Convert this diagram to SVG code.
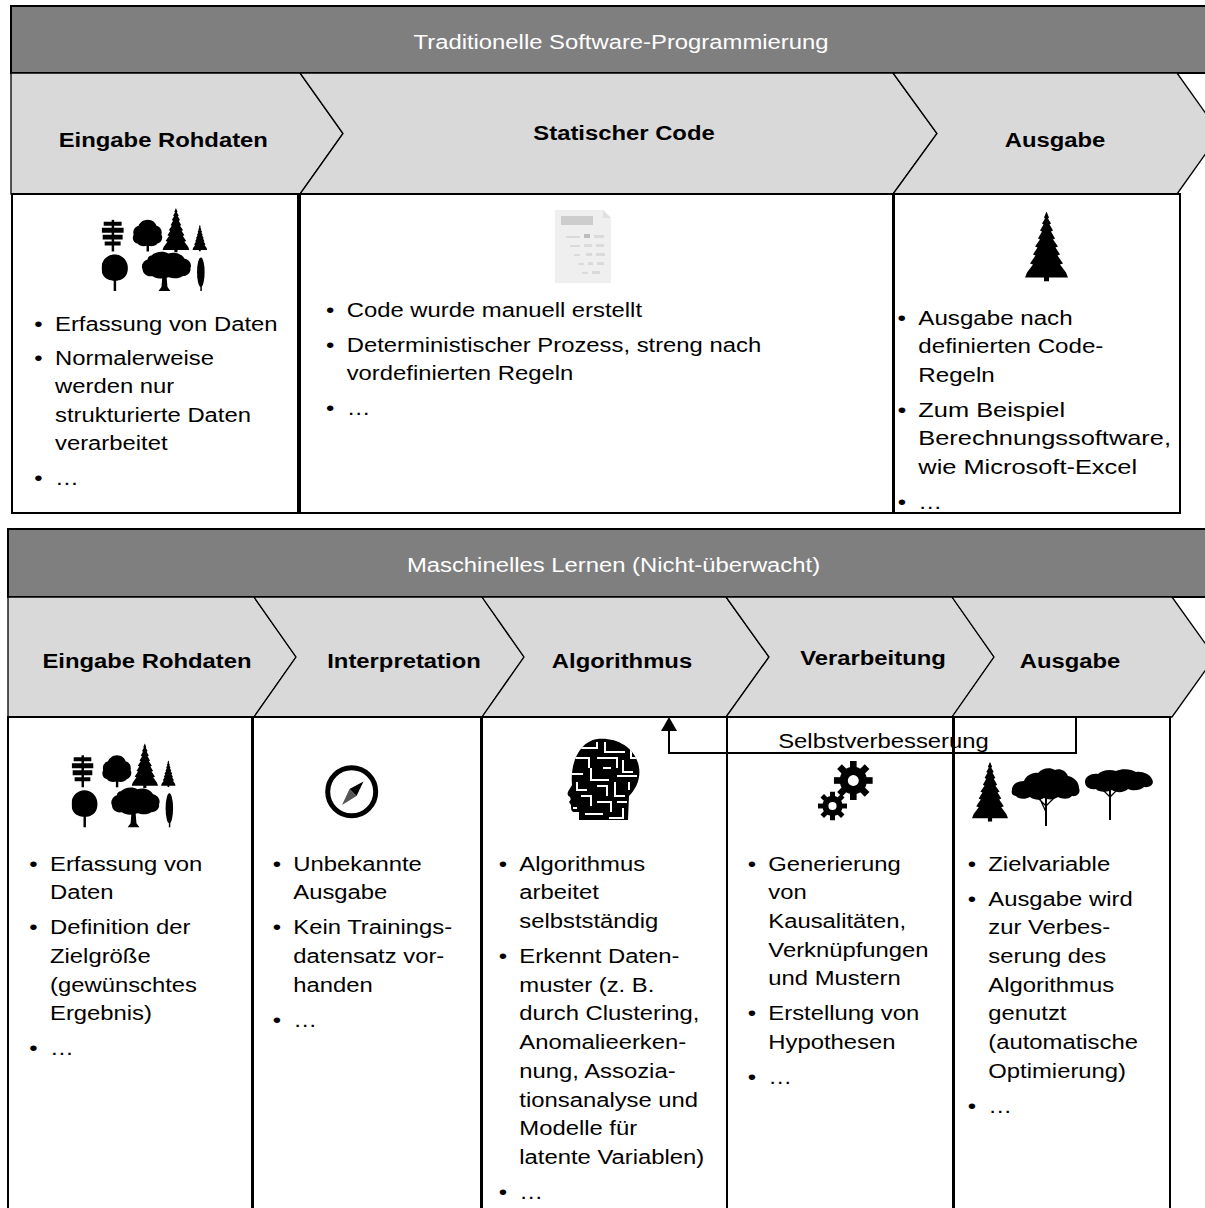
<svg xmlns="http://www.w3.org/2000/svg" xmlns:xlink="http://www.w3.org/1999/xlink" width="1205" height="1208" viewBox="0 0 1205 1208">
  <style>
    .t { font-family: "Liberation Sans", Arial, Helvetica, sans-serif; font-size: 21px; fill: #000; }
    .b { font-weight: bold; }
    .w { fill: #fff; }
    .mid { text-anchor: middle; }
    .hdr { fill: #7f7f7f; stroke: #000; stroke-width: 2; }
    .chev { fill: #d9d9d9; stroke: #000; stroke-width: 1.3; stroke-linejoin: miter; }
    .box { fill: #fff; stroke: #000; stroke-width: 2; }
    .conn { fill: none; stroke: #000; stroke-width: 2; }
    .trunk { fill: none; stroke: #000; stroke-width: 2; }
    .twig { fill: none; stroke: #000; stroke-width: 1.3; }
  </style>
  <defs>
    <marker id="arrow" markerUnits="userSpaceOnUse" markerWidth="14" markerHeight="16" viewBox="0 0 14 16" refX="0" refY="8" orient="auto">
      <path d="M0 0 L14 8 L0 16 Z" fill="#000"/>
    </marker>
    <!-- conifer silhouette -->
    <symbol id="pine" viewBox="0 0 43 70" preserveAspectRatio="none">
      <path fill="#000" d="M21.5 0 L24 6 L23 7 L26 12 L24.5 13 L28 19 L26 20 L30 27 L28 28 L33 35 L30.5 36 L35 43 L32.5 44 L38 52 L35 53 L41 61 L43 66 L24 66 L24 70 L19 70 L19 66 L0 66 L2 61 L8 53 L5 52 L10.5 44 L8 43 L12.5 36 L10 35 L15 28 L13 27 L17 20 L15 19 L18.5 13 L17 12 L20 7 L19 6 Z"/>
    </symbol>
    <!-- group of seven trees -->
    <symbol id="trees" viewBox="0 0 107 85" preserveAspectRatio="none">
      <g fill="#000">
        <path d="M2 14h18v4H2zM0 20h22v5H0zM1 27h20v5H1zM3 34h16v4H3z"/>
        <rect x="10" y="12" width="2.5" height="32"/>
        <path d="M46 12c5 0 8 3 9 6c4 1 6 5 5 9c2 3 0 8-4 9c-2 3-7 3-10 2c-3 1-8 1-10-2c-4-1-6-5-4-9c-1-4 1-8 5-9c1-3 5-6 9-6z"/>
        <rect x="45" y="34" width="2.5" height="10"/>
        <use xlink:href="#pine" href="#pine" x="61" y="0" width="27" height="45"/>
        <use xlink:href="#pine" href="#pine" x="91" y="17" width="15" height="27"/>
        <path d="M13 47c7 0 12 5 13 11c1 6-1 12-6 14c-3 2-10 2-14 0c-5-2-7-8-6-14c1-6 6-11 13-11z"/>
        <rect x="12" y="70" width="2.5" height="14"/>
        <path d="M50 48c4-4 12-5 17-2c6-2 13 0 16 5c5 1 8 6 6 10c1 4-3 8-8 8c-4 3-10 2-14 1c-5 2-12 2-16-1c-6 1-10-3-10-7c-2-4 1-9 5-10c0-2 2-4 4-4z"/>
        <path d="M61 68h4l1 12 3 4h-12l3-4z"/>
        <ellipse cx="99.5" cy="65" rx="3.8" ry="15"/>
        <rect x="99" y="78" width="1.5" height="6"/>
      </g>
    </symbol>
    <!-- cog wheel -->
    <symbol id="gear" viewBox="-10 -10 20 20">
      <g fill="#000">
        <circle r="7"/>
        <rect x="-1.7" y="-10" width="3.4" height="20"/>
        <rect x="-1.7" y="-10" width="3.4" height="20" transform="rotate(45)"/>
        <rect x="-1.7" y="-10" width="3.4" height="20" transform="rotate(90)"/>
        <rect x="-1.7" y="-10" width="3.4" height="20" transform="rotate(135)"/>
      </g>
      <circle r="2.8" fill="#fff"/>
    </symbol>
    <clipPath id="headClip">
      <path d="M30 1 C48 -1 66 8 71 25 C75 38 70 50 62 58 L61 82 L12 82 L12 74 L7 74 C4 74 4 70 4 67 L2 64 C4 62 4 61 3 59 C0 58 0 55 2 52 L5 47 C3 25 12 4 30 1 Z"/>
    </clipPath>
  </defs>

  <!-- ===== Traditional programming ===== -->
  <g id="trad-header">
    <rect class="hdr" x="11" y="6" width="1210" height="67"/>
    <text class="t w mid" transform="translate(621 48.5) scale(1.135 1)">Traditionelle Software-Programmierung</text>
  </g>

  <g id="trad-input">
    <polygon class="chev" points="11,73 300,73 343,133.5 300,194 11,194"/>
    <text class="t b mid" transform="translate(163.3 146.7) scale(1.135 1)">Eingabe Rohdaten</text>
    <rect class="box" x="12" y="194" width="286" height="319"/>
    <use xlink:href="#trees" href="#trees" x="101.7" y="208" width="106.6" height="84"/>
    <text class="t" transform="translate(55 331) scale(1.135 1)">
      <tspan x="-18.2" y="0">•</tspan><tspan x="0" y="0">Erfassung von Daten</tspan>
      <tspan x="-18.2" y="34">•</tspan><tspan x="0" y="34">Normalerweise</tspan>
      <tspan x="0" y="62.5">werden nur</tspan>
      <tspan x="0" y="91">strukturierte Daten</tspan>
      <tspan x="0" y="119.5">verarbeitet</tspan>
      <tspan x="-18.2" y="154.5">•</tspan><tspan x="0" y="154.5">…</tspan>
    </text>
  </g>

  <g id="trad-code">
    <polygon class="chev" points="300,73 893,73 937,133.5 893,194 300,194 343,133.5"/>
    <text class="t b mid" transform="translate(624 139.5) scale(1.135 1)">Statischer Code</text>
    <rect class="box" x="300" y="194" width="593" height="319"/>
    <g id="calc-doc">
      <path d="M555 210 H603 L611 218 V283 H555 Z" fill="#efefef"/>
      <path d="M603 210 V218 H611" fill="#e0e0e0"/>
      <rect x="561" y="216" width="32" height="9" fill="#cdcdcd"/>
      <g fill="#dadada">
        <rect x="566" y="236" width="14" height="2"/><rect x="584" y="234" width="6" height="4" fill="#bdbdbd"/><rect x="594" y="235" width="10" height="3"/>
        <rect x="570" y="245" width="10" height="2"/><rect x="584" y="244" width="8" height="3"/><rect x="596" y="244" width="8" height="3"/>
        <rect x="574" y="254" width="6" height="2"/><rect x="586" y="253" width="6" height="3"/><rect x="596" y="253" width="9" height="3"/>
        <rect x="578" y="263" width="6" height="2"/><rect x="588" y="262" width="5" height="3"/><rect x="597" y="262" width="7" height="3"/>
        <rect x="582" y="272" width="6" height="2"/><rect x="592" y="271" width="8" height="3"/>
      </g>
    </g>
    <text class="t" transform="translate(346.7 317) scale(1.135 1)">
      <tspan x="-18.2" y="0">•</tspan><tspan x="0" y="0">Code wurde manuell erstellt</tspan>
      <tspan x="-18.2" y="35">•</tspan><tspan x="0" y="35">Deterministischer Prozess, streng nach</tspan>
      <tspan x="0" y="63.5">vordefinierten Regeln</tspan>
      <tspan x="-18.2" y="98">•</tspan><tspan x="0" y="98">…</tspan>
    </text>
  </g>

  <g id="trad-output">
    <polygon class="chev" points="893,73 1177,73 1220,133.5 1177,194 893,194 937,133.5"/>
    <text class="t b mid" transform="translate(1055 146.7) scale(1.135 1)">Ausgabe</text>
    <rect class="box" x="894" y="194" width="286" height="319"/>
    <use xlink:href="#pine" href="#pine" x="1025" y="211.5" width="43" height="70"/>
    <text class="t" transform="translate(918.3 325) scale(1.15 1)">
      <tspan x="-18" y="0">•</tspan><tspan x="0" y="0">Ausgabe nach</tspan>
      <tspan x="0" y="28.5">definierten Code-</tspan>
      <tspan x="0" y="57">Regeln</tspan>
    </text>
    <text class="t" transform="translate(918.3 417) scale(1.21 1)">
      <tspan x="-17.1" y="0">•</tspan><tspan x="0" y="0">Zum Beispiel</tspan>
      <tspan x="0" y="28.5">Berechnungssoftware,</tspan>
      <tspan x="0" y="57">wie Microsoft-Excel</tspan>
    </text>
    <text class="t" transform="translate(918.3 509) scale(1.135 1)">
      <tspan x="-18.2" y="0">•</tspan><tspan x="0" y="0">…</tspan>
    </text>
  </g>

  <!-- ===== Unsupervised machine learning ===== -->
  <g id="ml-header">
    <rect class="hdr" x="8" y="529" width="1210" height="68"/>
    <text class="t w mid" transform="translate(613.5 572) scale(1.135 1)">Maschinelles Lernen (Nicht-überwacht)</text>
  </g>

  <g id="ml-input">
    <polygon class="chev" points="8,597 254,597 296,657 254,717 8,717"/>
    <text class="t b mid" transform="translate(147 668.3) scale(1.135 1)">Eingabe Rohdaten</text>
    <rect class="box" x="8" y="717" width="244" height="500"/>
    <use xlink:href="#trees" href="#trees" x="71.7" y="743.3" width="105" height="85"/>
    <text class="t" transform="translate(50 870.7) scale(1.135 1)">
      <tspan x="-18.2" y="0">•</tspan><tspan x="0" y="0">Erfassung von</tspan>
      <tspan x="0" y="28.7">Daten</tspan>
      <tspan x="-18.2" y="63.7">•</tspan><tspan x="0" y="63.7">Definition der</tspan>
      <tspan x="0" y="92.4">Zielgröße</tspan>
      <tspan x="0" y="121.1">(gewünschtes</tspan>
      <tspan x="0" y="149.8">Ergebnis)</tspan>
      <tspan x="-18.2" y="184.8">•</tspan><tspan x="0" y="184.8">…</tspan>
    </text>
  </g>

  <g id="ml-interpretation">
    <polygon class="chev" points="254,597 482,597 524,657 482,717 254,717 296,657"/>
    <text class="t b mid" transform="translate(404 668) scale(1.135 1)">Interpretation</text>
    <rect class="box" x="253" y="717" width="228" height="500"/>
    <g id="compass">
      <circle cx="351.7" cy="791.7" r="24" fill="none" stroke="#000" stroke-width="5"/>
      <polygon points="363.5,781.5 356.5,796 349.5,789" fill="#000"/>
      <polygon points="342,805 349.5,789 356.5,796" fill="#555"/>
    </g>
    <text class="t" transform="translate(293.3 870.7) scale(1.135 1)">
      <tspan x="-18.2" y="0">•</tspan><tspan x="0" y="0">Unbekannte</tspan>
      <tspan x="0" y="28.7">Ausgabe</tspan>
      <tspan x="-18.2" y="63.7">•</tspan><tspan x="0" y="63.7">Kein Trainings-</tspan>
      <tspan x="0" y="92.4">datensatz vor-</tspan>
      <tspan x="0" y="121.1">handen</tspan>
      <tspan x="-18.2" y="156.1">•</tspan><tspan x="0" y="156.1">…</tspan>
    </text>
  </g>

  <g id="ml-algorithm">
    <polygon class="chev" points="482,597 726,597 769,657 726,717 482,717 524,657"/>
    <text class="t b mid" transform="translate(622 668) scale(1.135 1)">Algorithmus</text>
    <rect class="box" x="482" y="717" width="245" height="500"/>
    <g id="maze-head" transform="translate(567 738)">
      <path d="M30 1 C48 -1 66 8 71 25 C75 38 70 50 62 58 L61 82 L12 82 L12 74 L7 74 C4 74 4 70 4 67 L2 64 C4 62 4 61 3 59 C0 58 0 55 2 52 L5 47 C3 25 12 4 30 1 Z" fill="#000"/>
      <g clip-path="url(#headClip)" fill="none" stroke="#fff" stroke-width="2">
        <path d="M10 10 H30 V4 M38 4 V14 H58 M64 10 V20 H72 M8 20 H22 V30 M30 20 H50 V30 M56 22 V34 H66 M2 36 H16 M24 30 V42 H42 M36 30 H44 M50 38 H70 M10 44 V52 H20 M30 48 H40 V58 M48 44 V58 H58 M62 44 V52 M14 58 H24 V68 M30 64 H44 V74 M50 64 H60 M6 70 H10 M18 76 H36 M42 80 H56 V70"/>
      </g>
    </g>
    <text class="t" transform="translate(519.3 870.7) scale(1.135 1)">
      <tspan x="-18.2" y="0">•</tspan><tspan x="0" y="0">Algorithmus</tspan>
      <tspan x="0" y="28.7">arbeitet</tspan>
      <tspan x="0" y="57.4">selbstständig</tspan>
      <tspan x="-18.2" y="92.4">•</tspan><tspan x="0" y="92.4">Erkennt Daten-</tspan>
      <tspan x="0" y="121.1">muster (z. B.</tspan>
      <tspan x="0" y="149.8">durch Clustering,</tspan>
      <tspan x="0" y="178.5">Anomalieerken-</tspan>
      <tspan x="0" y="207.2">nung, Assozia-</tspan>
      <tspan x="0" y="235.9">tionsanalyse und</tspan>
      <tspan x="0" y="264.6">Modelle für</tspan>
      <tspan x="0" y="293.3">latente Variablen)</tspan>
      <tspan x="-18.2" y="328.3">•</tspan><tspan x="0" y="328.3">…</tspan>
    </text>
  </g>

  <g id="ml-processing">
    <polygon class="chev" points="726,597 952,597 994,657 952,717 726,717 769,657"/>
    <text class="t b mid" transform="translate(873 665) scale(1.135 1)">Verarbeitung</text>
    <rect class="box" x="727" y="717" width="226" height="500"/>
    <use xlink:href="#gear" href="#gear" x="833.8" y="761" width="39" height="39"/>
    <use xlink:href="#gear" href="#gear" x="818" y="791.5" width="29" height="29"/>
    <text class="t" transform="translate(768.3 870.7) scale(1.135 1)">
      <tspan x="-18.2" y="0">•</tspan><tspan x="0" y="0">Generierung</tspan>
      <tspan x="0" y="28.7">von</tspan>
      <tspan x="0" y="57.4">Kausalitäten,</tspan>
      <tspan x="0" y="86.1">Verknüpfungen</tspan>
      <tspan x="0" y="114.8">und Mustern</tspan>
      <tspan x="-18.2" y="149.8">•</tspan><tspan x="0" y="149.8">Erstellung von</tspan>
      <tspan x="0" y="178.5">Hypothesen</tspan>
      <tspan x="-18.2" y="213.5">•</tspan><tspan x="0" y="213.5">…</tspan>
    </text>
  </g>

  <g id="ml-output">
    <polygon class="chev" points="952,597 1172,597 1215,657 1172,717 952,717 994,657"/>
    <text class="t b mid" transform="translate(1070 668) scale(1.135 1)">Ausgabe</text>
    <rect class="box" x="954" y="717" width="216" height="500"/>
    <use xlink:href="#pine" href="#pine" x="972" y="761.7" width="36" height="60"/>
    <g id="acacia-1">
      <path d="M1012 790 C1012 784 1018 781 1024 781 C1026 776 1032 772 1038 773 C1042 768 1050 767 1055 770 C1060 768 1066 771 1068 776 C1074 777 1079 782 1079 788 C1081 793 1077 797 1072 796 C1068 800 1062 799 1058 797 C1054 800 1048 800 1044 798 C1040 801 1034 800 1030 797 C1025 800 1018 799 1016 796 C1012 796 1011 793 1012 790 Z" fill="#000"/>
      <path class="trunk" d="M1046 796 V826"/>
      <path class="twig" d="M1046 806 L1035 795 M1046 806 L1057 795 M1046 812 L1040 799"/>
    </g>
    <g id="acacia-2">
      <path d="M1085 782 C1085 776 1092 773 1098 774 C1102 770 1110 769 1116 771 C1122 768 1132 769 1136 772 C1142 771 1150 774 1152 779 C1155 784 1150 788 1144 787 C1140 791 1132 791 1128 789 C1124 793 1116 793 1112 790 C1106 793 1098 792 1096 789 C1090 790 1085 787 1085 782 Z" fill="#000"/>
      <path class="trunk" d="M1110 788 V820"/>
      <path class="twig" d="M1110 797 L1100 787 M1110 797 L1120 787"/>
    </g>
    <text class="t" transform="translate(988.3 870.7) scale(1.135 1)">
      <tspan x="-18.2" y="0">•</tspan><tspan x="0" y="0">Zielvariable</tspan>
      <tspan x="-18.2" y="35">•</tspan><tspan x="0" y="35">Ausgabe wird</tspan>
      <tspan x="0" y="63.7">zur Verbes-</tspan>
      <tspan x="0" y="92.4">serung des</tspan>
      <tspan x="0" y="121.1">Algorithmus</tspan>
      <tspan x="0" y="149.8">genutzt</tspan>
      <tspan x="0" y="178.5">(automatische</tspan>
      <tspan x="0" y="207.2">Optimierung)</tspan>
      <tspan x="-18.2" y="242.2">•</tspan><tspan x="0" y="242.2">…</tspan>
    </text>
  </g>

  <!-- feedback loop from output back to the algorithm -->
  <g id="connectors">
    <path class="conn" d="M1076 717 V753 H669 V731" marker-end="url(#arrow)"/>
    <text class="t mid" transform="translate(883.5 748) scale(1.135 1)">Selbstverbesserung</text>
  </g>
</svg>
